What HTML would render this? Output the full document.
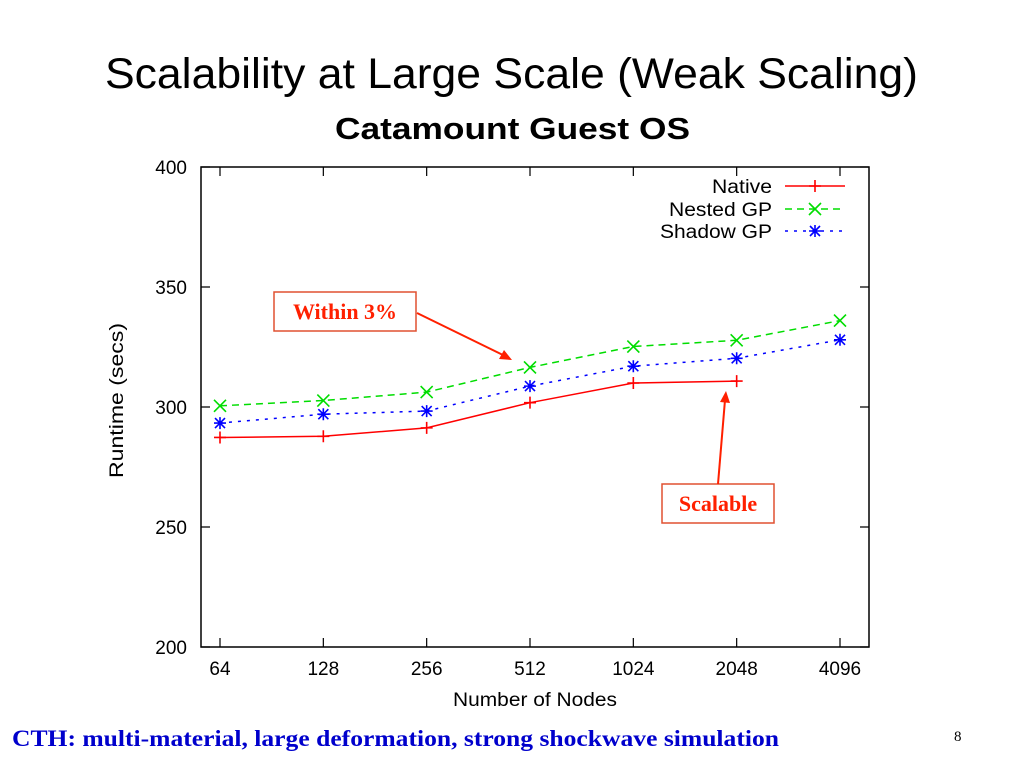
<!DOCTYPE html>
<html><head><meta charset="utf-8"><style>
body{margin:0;width:1024px;height:768px;background:#fff;overflow:hidden;font-family:"Liberation Sans",sans-serif}
</style></head><body>
<svg width="1024" height="768">
<text x="105" y="88" textLength="813" lengthAdjust="spacingAndGlyphs" font-size="43" fill="#000">Scalability at Large Scale (Weak Scaling)</text>
<text x="335" y="139" textLength="355" lengthAdjust="spacingAndGlyphs" font-size="31" font-weight="bold" fill="#000">Catamount Guest OS</text>
<g id="chart"></g>
<text x="12" y="746" textLength="767" lengthAdjust="spacingAndGlyphs" font-family="Liberation Serif" font-size="23" font-weight="bold" fill="#0000cc">CTH: multi-material, large deformation, strong shockwave simulation</text>
<text x="954" y="741" font-family="Liberation Serif" font-size="15" fill="#000">8</text>
</svg>
<script>
const categories=["64","128","256","512","1024","2048","4096"];
const nativeVals=[287.3,287.8,291.3,301.8,310,310.8,null];
const nestedVals=[300.5,302.7,306.2,316.5,325.2,327.8,336];
const shadowVals=[293.3,297,298.3,308.7,317,320.3,328];
const yTicks=[200,250,300,350,400];
const NS="http://www.w3.org/2000/svg";
const g=document.getElementById('chart');
const L=201,R=869,T=167,B=647;
function xs(i){return 220+i*(840-220)/6;}
function ys(v){return B-(v-200)*(B-T)/200;}
function mk(t,a,p){const e=document.createElementNS(NS,t);for(const k in a)e.setAttribute(k,a[k]);(p||g).appendChild(e);return e;}
const frame=mk('rect',{x:L,y:T,width:R-L,height:B-T,fill:'none',stroke:'#000','stroke-width':1.5});


yTicks.forEach(v=>{const y=ys(v);
 const t=mk('path',{d:`M${L},${y}h9M${R},${y}h-9`,stroke:'#000','stroke-width':1.2});
 
 
 const l=mk('text',{x:L-14,y:y+7,'text-anchor':'end','font-size':19});l.textContent=v;
 
 });
categories.forEach((c,i)=>{const x=xs(i);
 const t=mk('path',{d:`M${x},${B}v-9M${x},${T}v9`,stroke:'#000','stroke-width':1.2});
 
 
 const l=mk('text',{x:x,y:B+28,'text-anchor':'middle','font-size':19});l.textContent=c;
 
 });
const xt=mk('text',{x:453,y:706,textLength:164,lengthAdjust:'spacingAndGlyphs','font-size':19});xt.textContent='Number of Nodes';


const yt=mk('text',{x:0,y:0,textLength:155,lengthAdjust:'spacingAndGlyphs','font-size':19,transform:`translate(123,478) rotate(-90)`});yt.textContent='Runtime (secs)';


function marker(type,x,y,col,p){let d;
 if(type==='plus')d=`M${x-6},${y}h12M${x},${y-6}v12`;
 else if(type==='x')d=`M${x-6},${y-6}l12,12M${x-6},${y+6}l12,-12`;
 else d=`M${x-6},${y}h12M${x},${y-6}v12M${x-5},${y-5}l10,10M${x-5},${y+5}l10,-10`;
 const m=mk('path',{d:d,stroke:col,'stroke-width':1.6,fill:'none'},p);
 
 }
const series=[{n:'Native',v:nativeVals,c:'#ff0000',dash:'',m:'plus',ly:186,w:60},
{n:'Nested GP',v:nestedVals,c:'#00dd00',dash:'7,5',m:'x',ly:209,w:103},
{n:'Shadow GP',v:shadowVals,c:'#0000ff',dash:'3,6',m:'star',ly:231,w:112}];
series.forEach(s=>{const sg=mk('g',{});
 
 
 const pts=[];s.v.forEach((v,i)=>{if(v!=null)pts.push([xs(i),ys(v)]);});
 mk('polyline',{points:pts.map(p=>p.join(',')).join(' '),fill:'none',stroke:s.c,'stroke-width':1.5,'stroke-dasharray':s.dash},sg);
 pts.forEach(p=>marker(s.m,p[0],p[1],s.c,sg));
 const lg=mk('g',{});
 
 
 const lt=mk('text',{x:772-s.w,y:s.ly+7,textLength:s.w,lengthAdjust:'spacingAndGlyphs','font-size':19},lg);lt.textContent=s.n;
 mk('line',{x1:785,x2:845,y1:s.ly,y2:s.ly,stroke:s.c,'stroke-width':1.5,'stroke-dasharray':s.dash},lg);
 marker(s.m,815,s.ly,s.c,lg);});
const a1=mk('g',{});


mk('rect',{x:274,y:292,width:142,height:39,fill:'#fff',stroke:'#e05030','stroke-width':1.5},a1);
const t1=mk('text',{x:345,y:319,'text-anchor':'middle','font-family':'Liberation Serif','font-size':22,'font-weight':'bold',fill:'#ff2000'},a1);t1.textContent='Within 3%';
mk('path',{d:'M417,313 L505,356',stroke:'#ff2000','stroke-width':2},a1);
mk('path',{d:'M512,360 l-13,-1 l5,-9z',fill:'#ff2000'},a1);
const a2=mk('g',{});


mk('rect',{x:662,y:484,width:112,height:39,fill:'#fff',stroke:'#e05030','stroke-width':1.5},a2);
const t2=mk('text',{x:718,y:511,'text-anchor':'middle','font-family':'Liberation Serif','font-size':22,'font-weight':'bold',fill:'#ff2000'},a2);t2.textContent='Scalable';
mk('path',{d:'M718,484 L725,400',stroke:'#ff2000','stroke-width':2},a2);
mk('path',{d:'M726,391 l4,12 l-10,-1z',fill:'#ff2000'},a2);
</script>
</body></html>
